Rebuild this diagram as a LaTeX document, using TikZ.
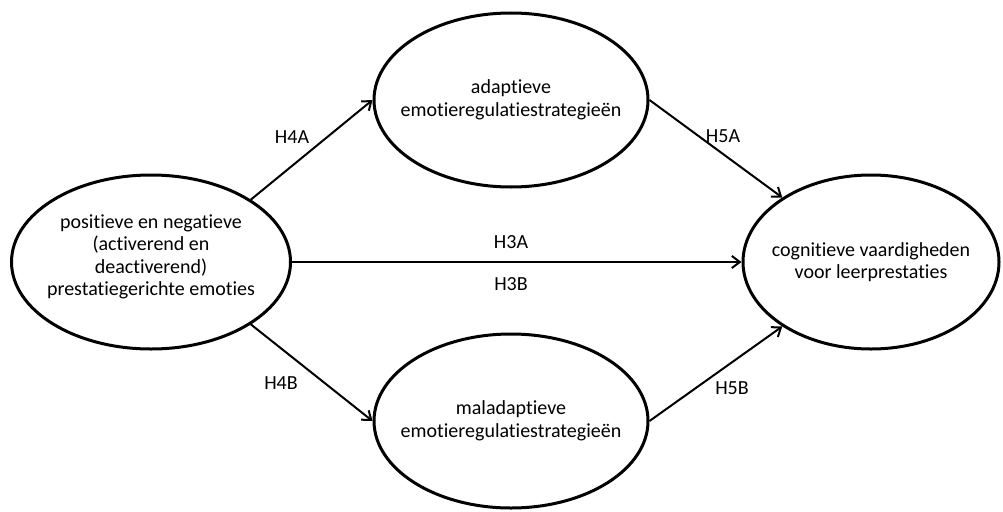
\documentclass[tikz,border=0pt]{standalone}
\usepackage{fontspec}
\setmainfont[Ligatures=NoCommon]{Carlito}
\usetikzlibrary{arrows.meta,shapes.geometric}

\begin{document}
\begin{tikzpicture}[>={Straight Barb[length=8pt,width=12pt]},x=1pt,y=-1pt,font=\fontsize{20}{22.5}\selectfont]
\tikzstyle{ell}=[draw,ellipse,line width=3pt,inner sep=-30pt,align=center,minimum height=174pt]
\tikzstyle{pijl}=[->,line width=2pt]
\useasboundingbox (0,0) rectangle (1003,511);
% ellipsen
\node[ell,minimum width=279pt] (emoties) at (151,262) {positieve en negatieve\\(activerend en\\deactiverend)\\prestatiegerichte emoties\rule[-14pt]{0pt}{0pt}};
\node[ell,minimum width=274pt] (adaptief) at (511,100) {adaptieve\\emotieregulatiestrategieën};
\node[ell,minimum width=274pt] (maladaptief) at (511,421) {maladaptieve\\emotieregulatiestrategieën};
\node[ell,minimum width=256pt] (cognitief) at (871,262) {cognitieve vaardigheden\\voor leerprestaties};
% pijlen
\draw[pijl] (emoties.32) -- (adaptief.west);
\draw[pijl] (emoties.-32) -- (maladaptief.west);
\draw[pijl] (emoties.east) -- (cognitief.west);
\draw[pijl] (adaptief.east) -- (cognitief.144);
\draw[pijl] (maladaptief.east) -- (cognitief.-144);
% labels
\node (h4a) at (292,137) {H4A};
\node (h4b) at (281,383) {H4B};
\node (h3a) at (511,242) {H3A};
\node (h3b) at (511,284) {H3B};
\node (h5a) at (723,136) {H5A};
\node (h5b) at (732,388) {H5B};
\end{tikzpicture}
\end{document}
